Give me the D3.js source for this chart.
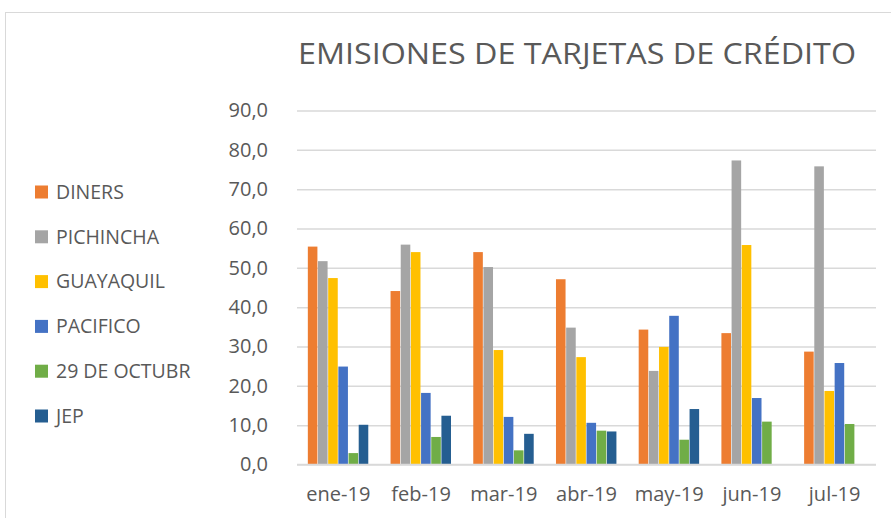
<!DOCTYPE html>
<html>
<head>
<meta charset="utf-8">
<script src="https://cdn.jsdelivr.net/npm/d3@7"></script>
<style>
  body { margin: 0; background: #fff; }
  text { font-family: "Open Sans", "Liberation Sans", sans-serif; fill: #595959; }
</style>
</head>
<body>
<script>
var width = 891, height = 518;

// data
var months = ["ene-19", "feb-19", "mar-19", "abr-19", "may-19", "jun-19", "jul-19"];
var series = ["DINERS", "PICHINCHA", "GUAYAQUIL", "PACIFICO", "29 DE OCTUBR", "JEP"];
var colors = ["#ED7D31", "#A5A5A5", "#FFC000", "#4472C4", "#70AD47", "#255E91"];
var diners    = [55.4, 44.1, 54.0, 47.1, 34.3, 33.4, 28.7];
var pichincha = [51.7, 55.9, 50.2, 34.8, 23.8, 77.3, 75.8];
var guayaquil = [47.4, 54.0, 29.1, 27.3, 29.9, 55.8, 18.7];
var pacifico  = [24.9, 18.2, 12.1, 10.6, 37.8, 16.9, 25.8];
var octubre   = [2.9, 7.0, 3.6, 8.6, 6.3, 10.9, 10.3];
var jep       = [10.1, 12.4, 7.8, 8.4, 14.1, null, null];
var yTicks = [0, 10, 20, 30, 40, 50, 60, 70, 80, 90];

var values = [diners, pichincha, guayaquil, pacifico, octubre, jep];

var svg = d3.select("body").append("svg")
    .attr("width", width)
    .attr("height", height);

// chart frame
svg.append("rect")
    .attr("x", 5.5).attr("y", 12.5)
    .attr("width", 1000).attr("height", 1000)
    .attr("fill", "none")
    .attr("stroke", "#d9d9d9");

svg.append("text")
    .attr("x", 298).attr("y", 64)
    .attr("textLength", 558)
    .attr("lengthAdjust", "spacingAndGlyphs")
    .style("font-size", "30px")
    .text("EMISIONES DE TARJETAS DE CRÉDITO");

var x0 = d3.scaleBand().domain(months).range([297, 876])
    .paddingInner(0.262).paddingOuter(0.131);
var x1 = d3.scaleBand().domain(series).range([0, x0.bandwidth()]);
var y = d3.scaleLinear().domain([0, 90]).range([464.5, 110.5]);

// grid
var yAxis = d3.axisLeft(y).tickValues(yTicks)
    .tickSize(-(876 - 297))
    .tickPadding(29)
    .tickFormat(function(d){ return d3.format(".1f")(d).replace(".", ","); });

var gy = svg.append("g")
    .attr("transform", "translate(297,0)")
    .call(yAxis);
gy.select(".domain").remove();
gy.selectAll("line").attr("stroke", "#d9d9d9").attr("stroke-width", 1.5);
gy.selectAll("text").style("font-size", "20px").attr("fill", "#595959");

// bars
var groups = svg.selectAll("g.month")
    .data(months)
    .enter().append("g")
    .attr("class", "month")
    .attr("transform", function(d){ return "translate(" + x0(d) + ",0)"; });

groups.selectAll("rect")
    .data(function(m, i){
        return series.map(function(s, j){ return {s: s, v: values[j][i], c: colors[j]}; })
            .filter(function(d){ return d.v != null; });
    })
    .enter().append("rect")
    .attr("x", function(d){ return x1(d.s); })
    .attr("width", x1.bandwidth() - 0.6)
    .attr("y", function(d){ return y(d.v); })
    .attr("height", function(d){ return y(0) - y(d.v); })
    .attr("fill", function(d){ return d.c; });

// baseline over bars
svg.append("line")
    .attr("x1", 297).attr("x2", 876)
    .attr("y1", y(0)).attr("y2", y(0))
    .attr("stroke", "#d9d9d9").attr("stroke-width", 1.5);

// x labels
var gx = svg.append("g")
    .attr("transform", "translate(0," + y(0) + ")")
    .call(d3.axisBottom(x0).tickSize(0).tickPadding(22));
gx.select(".domain").remove();
gx.selectAll("text").style("font-size", "20px").attr("fill", "#595959");

// legend
var legend = svg.selectAll("g.legend")
    .data(series)
    .enter().append("g")
    .attr("class", "legend")
    .attr("transform", function(d, i){ return "translate(35," + (192 + i * 44.8) + ")"; });

legend.append("rect")
    .attr("x", 0).attr("y", -6.5)
    .attr("width", 13).attr("height", 13)
    .attr("fill", function(d, i){ return colors[i]; });

legend.append("text")
    .attr("x", 21).attr("y", 0)
    .attr("dy", "0.35em")
    .style("font-size", "19.5px")
    .text(function(d){ return d; });
</script>
</body>
</html>
